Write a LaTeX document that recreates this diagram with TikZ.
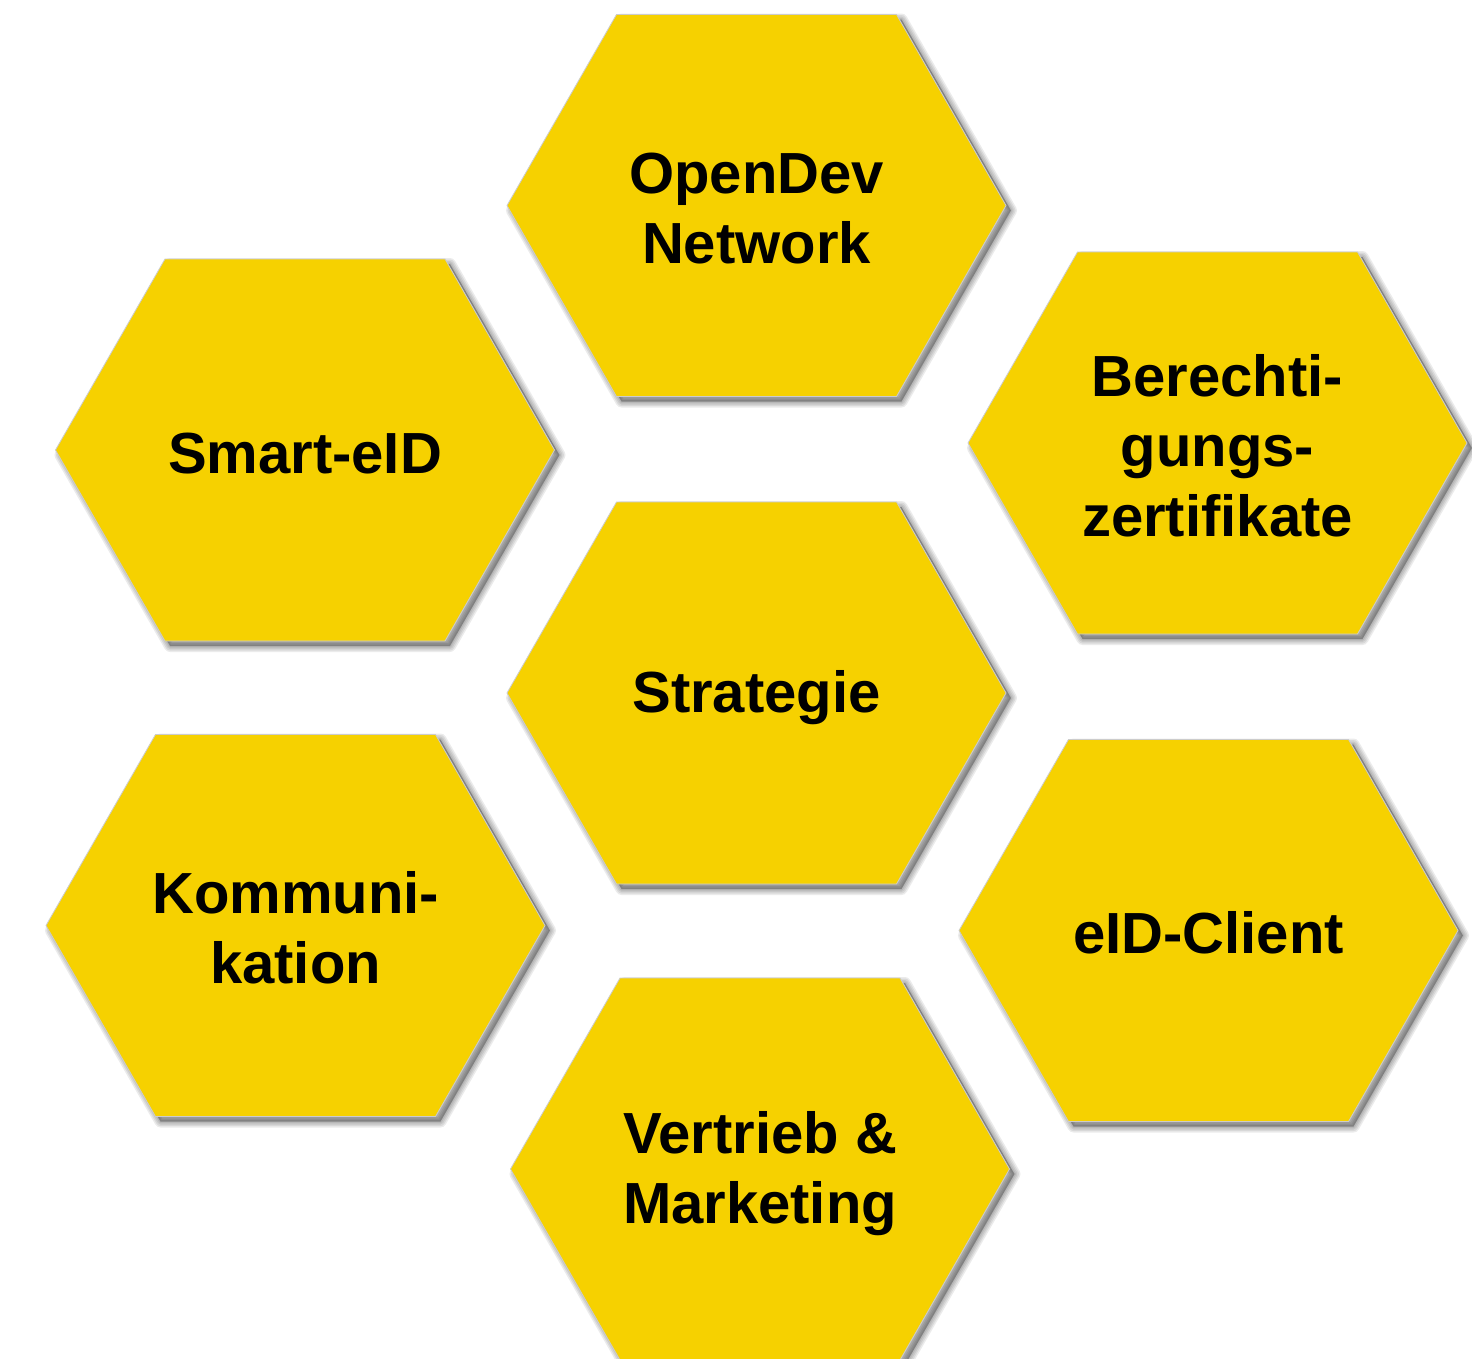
\documentclass[tikz,border=0pt]{standalone}
\usepackage{fontspec}
\setmainfont{Liberation Sans}
\definecolor{hexyellow}{RGB}{246,209,0}
\newcommand{\hxstrut}{\rule[-6pt]{0pt}{58pt}}
\tikzset{
  hexfill/.style={fill=hexyellow, draw=black!20, line width=0.8pt, line join=miter},
  hexshadow/.style={fill=black, draw=black, opacity=0.08, line join=round},
  hexlabel/.style={font=\bfseries\fontsize{58}{70}\selectfont, align=center, text=black,
    inner sep=0pt}
}
\def\hexshape{(-249.5,0) -- (-140,-191) -- (140,-191) -- (249.5,0) -- (140,191) -- (-140,191) -- cycle}
\begin{document}
\begin{tikzpicture}[x=1pt,y=-1pt]
\useasboundingbox (0,0) rectangle (1472,1358);
\clip (0,0) rectangle (1472,1358);
\fill[white] (0,0) rectangle (1472,1358);
\foreach \cx/\cy/\nm/\txt in {
  756.5/205.5/opendev/{\hxstrut OpenDev\\\hxstrut Network},
  305/450/smarteid/{\hxstrut Smart-eID},
  1217.5/443/berecht/{\hxstrut Berechti-\\\hxstrut gungs-\\\hxstrut zertifikate},
  756.5/693/strategie/{\hxstrut Strategie},
  295.5/925.5/kommuni/{\hxstrut Kommuni-\\\hxstrut kation},
  1208.5/930.5/eidclient/{\hxstrut eID-Client},
  760/1169/vertrieb/{\hxstrut Vertrieb \&\\\hxstrut Marketing}} {
  \begin{scope}[shift={(\cx,\cy)}]
    \foreach \w in {12,9,6,3} {
      \filldraw[hexshadow, line width=\w pt, shift={(5,5)}] \hexshape;
    }
    \filldraw[hexfill] \hexshape;
    \node[hexlabel] (\nm) at (0,0) {\txt};
  \end{scope}
}
\end{tikzpicture}
\end{document}
